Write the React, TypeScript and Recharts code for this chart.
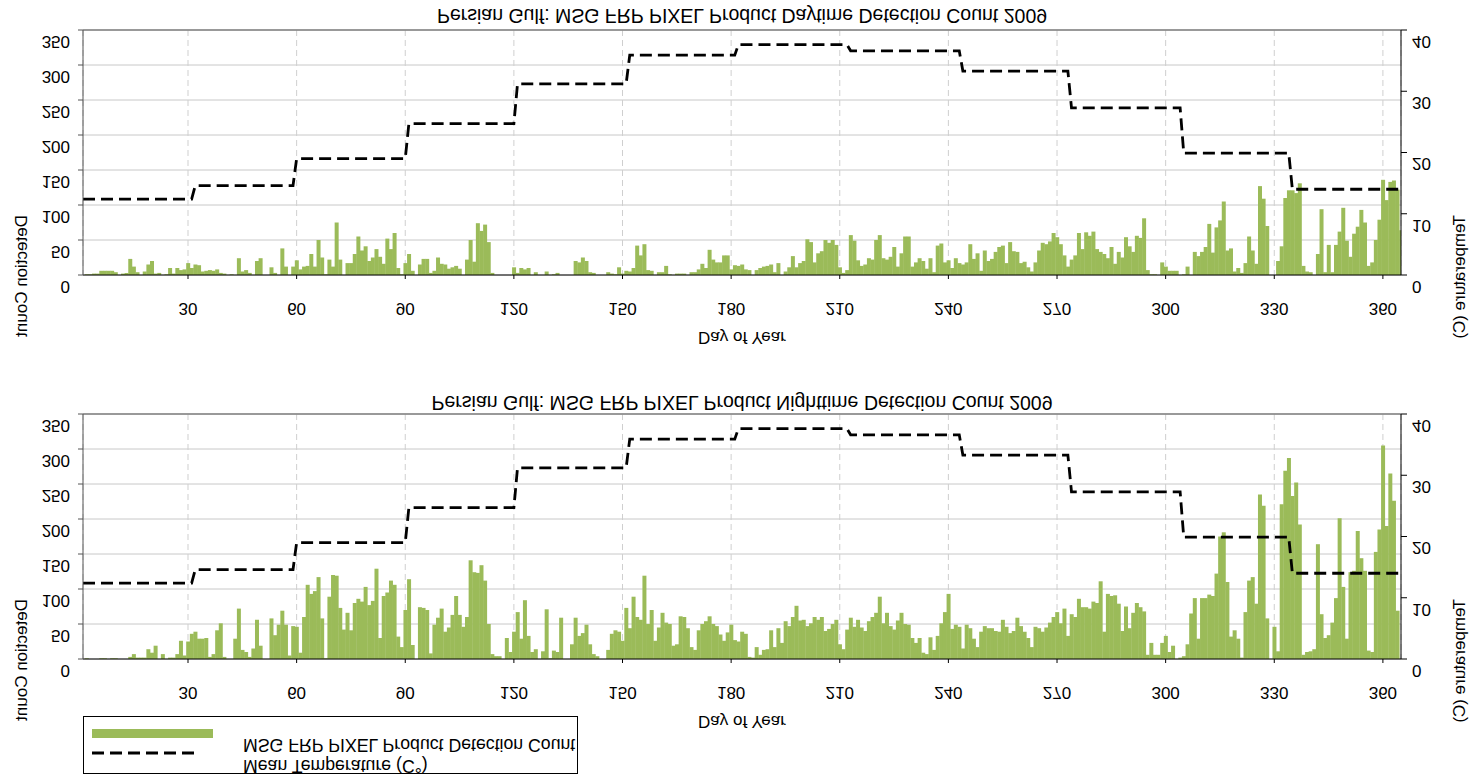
import React from "react";
import { ComposedChart, Bar, Line, XAxis, YAxis, CartesianGrid, ReferenceLine, Customized } from "recharts";

const FONT = '"Liberation Sans", Arial, Helvetica, sans-serif';
const GREEN = "#9bbb59";

const dayTicks = [30, 60, 90, 120, 150, 180, 210, 240, 270, 300, 330, 360];
const countTicks = [0, 50, 100, 150, 200, 250, 300, 350];
const tempTicks = [0, 10, 20, 30, 40];

// first day of each month and its mean temperature (C)
const monthStartDay = [1, 32, 60, 91, 121, 152, 182, 213, 244, 274, 305, 335];
const monthlyMeanTemp = [12.4, 14.6, 19.0, 24.7, 31.2, 35.9, 37.6, 36.6, 33.3, 27.3, 19.9, 14.0];

// detection counts per day of year, 1..365
const daytimeCounts = [
  0, 1, 1, 2, 2, 6, 6, 6, 6, 4,
  0, 2, 3, 23, 12, 4, 0, 5, 15, 20,
  2, 3, 0, 1, 10, 2, 10, 7, 8, 17,
  10, 15, 14, 5, 6, 7, 6, 8, 3, 2,
  0, 1, 0, 24, 5, 7, 3, 0, 20, 24,
  0, 0, 11, 3, 0, 38, 12, 0, 12, 21,
  8, 12, 13, 30, 12, 50, 25, 1, 22, 12,
  75, 22, 0, 17, 17, 30, 55, 35, 41, 20,
  25, 37, 26, 16, 52, 37, 60, 10, 1, 17,
  30, 6, 0, 15, 23, 23, 3, 6, 25, 16,
  15, 9, 11, 13, 9, 0, 22, 50, 19, 74,
  63, 72, 47, 3, 0, 0, 0, 0, 0, 11,
  3, 10, 8, 10, 0, 4, 0, 0, 5, 0,
  1, 3, 0, 0, 0, 0, 20, 18, 25, 20,
  4, 3, 0, 0, 0, 4, 2, 1, 11, 2,
  6, 5, 10, 42, 28, 44, 7, 6, 0, 4,
  4, 13, 1, 0, 2, 2, 2, 0, 4, 4,
  8, 16, 10, 36, 22, 18, 18, 28, 28, 8,
  14, 13, 15, 8, 7, 0, 7, 10, 12, 13,
  15, 4, 17, 0, 5, 11, 27, 11, 17, 20,
  51, 47, 18, 31, 34, 50, 46, 50, 43, 11,
  3, 7, 57, 49, 21, 13, 15, 24, 22, 50,
  57, 24, 22, 26, 40, 12, 31, 55, 55, 12,
  18, 24, 20, 9, 24, 4, 42, 45, 18, 21,
  10, 24, 17, 15, 18, 44, 23, 31, 6, 35,
  20, 23, 33, 40, 42, 17, 47, 34, 33, 17,
  19, 11, 5, 18, 35, 46, 44, 48, 60, 54,
  44, 28, 12, 22, 28, 60, 37, 61, 56, 62,
  37, 33, 30, 24, 40, 16, 33, 25, 54, 41,
  33, 56, 53, 81, 7, 1, 1, 0, 18, 12,
  6, 6, 6, 0, 1, 12, 0, 33, 27, 33,
  40, 73, 32, 68, 78, 105, 35, 38, 5, 10,
  3, 17, 55, 35, 16, 127, 109, 70, 0, 0,
  20, 41, 110, 121, 121, 117, 131, 13, 5, 4,
  0, 30, 94, 4, 43, 4, 43, 62, 96, 49,
  26, 59, 69, 93, 75, 13, 18, 50, 79, 136,
  107, 133, 135, 122, 64,
];

const nighttimeCounts = [
  0, 1, 0, 0, 0, 1, 1, 0, 1, 1,
  0, 0, 0, 3, 7, 2, 2, 2, 14, 9,
  19, 0, 7, 0, 2, 2, 7, 26, 5, 25,
  36, 39, 29, 29, 30, 3, 7, 41, 51, 3,
  0, 0, 29, 72, 13, 10, 3, 15, 56, 19,
  0, 0, 58, 34, 49, 69, 49, 5, 47, 46,
  9, 60, 106, 93, 97, 117, 58, 1, 89, 120,
  119, 73, 42, 66, 41, 80, 86, 82, 103, 77,
  83, 129, 30, 90, 95, 112, 106, 32, 17, 70,
  114, 20, 0, 74, 73, 70, 8, 49, 59, 72,
  39, 45, 63, 90, 63, 46, 60, 141, 124, 123,
  134, 112, 50, 7, 4, 4, 0, 30, 10, 39,
  67, 29, 84, 33, 10, 14, 0, 11, 71, 1,
  12, 10, 59, 0, 0, 21, 59, 33, 37, 49,
  21, 7, 4, 0, 0, 13, 36, 41, 39, 26,
  73, 44, 89, 60, 56, 119, 50, 70, 26, 45,
  66, 52, 50, 19, 21, 61, 60, 44, 17, 13,
  41, 50, 54, 61, 50, 47, 35, 26, 38, 49,
  27, 25, 39, 36, 3, 2, 17, 6, 13, 14,
  41, 17, 44, 23, 54, 47, 60, 76, 55, 56,
  47, 51, 60, 56, 60, 40, 43, 50, 56, 21,
  14, 42, 59, 46, 56, 45, 40, 54, 60, 66,
  89, 51, 66, 47, 42, 55, 66, 50, 49, 30,
  23, 30, 9, 7, 31, 13, 33, 51, 67, 93,
  43, 49, 46, 15, 49, 44, 29, 17, 39, 47,
  44, 44, 40, 39, 56, 46, 37, 40, 59, 47,
  39, 30, 17, 46, 44, 39, 45, 52, 60, 67,
  51, 72, 33, 64, 60, 86, 74, 74, 72, 82,
  80, 111, 39, 93, 90, 91, 79, 40, 75, 44,
  66, 80, 74, 68, 6, 23, 6, 6, 23, 33,
  10, 19, 0, 2, 4, 21, 65, 87, 29, 87,
  87, 92, 90, 122, 175, 181, 110, 32, 41, 29,
  2, 67, 112, 117, 79, 235, 219, 58, 0, 46,
  11, 221, 269, 287, 233, 252, 192, 6, 10, 11,
  14, 164, 64, 30, 34, 52, 87, 201, 103, 29,
  124, 126, 183, 144, 126, 12, 10, 153, 185, 305,
  190, 265, 226, 69, 0,
];

const tempForDay = (day: number) => {
  let m = 0;
  monthStartDay.forEach((s, i) => {
    if (day >= s) m = i;
  });
  return monthlyMeanTemp[m];
};

const buildRows = (counts: number[]) =>
  counts.map((c, i) => ({ day: i + 1, count: c, temp: tempForDay(i + 1) }));

const TEMP_DASH = "12 6";

// the reference draws every label upside down about its own origin
const FlipText = ({ x, cy, size = 17, anchor = "middle", children }: any) => {
  const b = cy - 0.36 * size;
  return (
    <text
      x={x}
      y={b}
      fontSize={size}
      fontFamily={FONT}
      textAnchor={anchor}
      fill="#000"
      transform={`translate(0 ${2 * b}) scale(1 -1)`}
    >
      {children}
    </text>
  );
};

const FlipVLabel = ({ x, y0, size = 17, children }: any) => (
  <g transform={`translate(0 ${2 * y0}) scale(1 -1)`}>
    <text
      x={x}
      y={y0}
      fontSize={size}
      fontFamily={FONT}
      textAnchor="start"
      fill="#000"
      transform={`rotate(-90 ${x} ${y0})`}
    >
      {children}
    </text>
  </g>
);

const LeftTick = (p: any) => (
  <FlipText x={70} cy={p.y + 12} anchor="end">
    {p.payload.value}
  </FlipText>
);
const RightTick = (p: any) => (
  <FlipText x={1412} cy={p.y + 12} anchor="start">
    {p.payload.value}
  </FlipText>
);
const BottomTick = (p: any) => (
  <FlipText x={p.x} cy={309}>
    {p.payload.value}
  </FlipText>
);

const Legend2 = () => (
  <g>
    <rect x={83.5} y={332.5} width={494} height={57} fill="#fff" stroke="#000" strokeWidth={1} />
    <rect x={92} y={345} width={121} height={9} fill={GREEN} />
    <line x1={92} y1={369} x2={200} y2={369} stroke="#000" strokeWidth={2.8} strokeDasharray={TEMP_DASH} />
    <FlipText x={243} cy={361} size={17.7} anchor="start">
      MSG FRP PIXEL Product Detection Count
    </FlipText>
    <FlipText x={243} cy={382} size={17.7} anchor="start">
      Mean Temperature (C°)
    </FlipText>
  </g>
);

const DetectionChart = ({ title, counts, titleCy, height, legend }: any) => {
  const rows = buildRows(counts);
  return (
    <ComposedChart
      width={1470}
      height={height}
      data={rows}
      margin={{ top: 30, right: 0, bottom: 0, left: 0 }}
      barCategoryGap={0}
      barGap={0}
    >
      <CartesianGrid yAxisId="count" vertical={false} stroke="#c8c8c8" />
      <CartesianGrid yAxisId="count" horizontal={false} stroke="#cfcfcf" strokeDasharray="6 4" />
      <XAxis
        dataKey="day"
        type="number"
        domain={[1, 365]}
        ticks={dayTicks}
        allowDataOverflow
        height={height - 275}
        tickSize={4}
        stroke="#000"
        tick={<BottomTick />}
      />
      <YAxis
        yAxisId="count"
        domain={[0, 350]}
        ticks={countTicks}
        width={83}
        tickSize={5}
        stroke="#555"
        tick={<LeftTick />}
      />
      <YAxis
        yAxisId="temp"
        orientation="right"
        domain={[0, 40]}
        ticks={tempTicks}
        width={69}
        tickSize={6}
        stroke="#000"
        tick={<RightTick />}
      />
      <ReferenceLine yAxisId="count" y={350} stroke="#808080" strokeWidth={1.5} />
      <Bar yAxisId="count" dataKey="count" fill={GREEN} isAnimationActive={false} />
      <Line
        yAxisId="temp"
        dataKey="temp"
        type="linear"
        stroke="#000"
        strokeWidth={2.8}
        strokeDasharray={TEMP_DASH}
        dot={false}
        isAnimationActive={false}
      />
      <Customized
        component={() => (
          <g>
            <FlipText x={742} cy={titleCy} size={19.5}>
              {title}
            </FlipText>
            <FlipText x={742} cy={338}>
              Day of Year
            </FlipText>
            <FlipVLabel x={27} y0={215}>
              Detection Count
            </FlipVLabel>
            <FlipVLabel x={1465} y0={215}>
              Temperature (C)
            </FlipVLabel>
            {legend ? <Legend2 /> : null}
          </g>
        )}
      />
    </ComposedChart>
  );
};

export default function App() {
  return (
    <div style={{ position: "absolute", left: 0, top: 0, width: 1470, height: 776, background: "#fff" }}>
      <div style={{ position: "absolute", left: 0, top: 0 }}>
        <DetectionChart
          title="Persian Gulf: MSG FRP PIXEL Product Daytime Detection Count 2009"
          counts={daytimeCounts}
          titleCy={16}
          height={384}
        />
      </div>
      <div style={{ position: "absolute", left: 0, top: 384 }}>
        <DetectionChart
          title="Persian Gulf: MSG FRP PIXEL Product Nighttime Detection Count 2009"
          counts={nighttimeCounts}
          titleCy={19.5}
          height={392}
          legend
        />
      </div>
    </div>
  );
}
